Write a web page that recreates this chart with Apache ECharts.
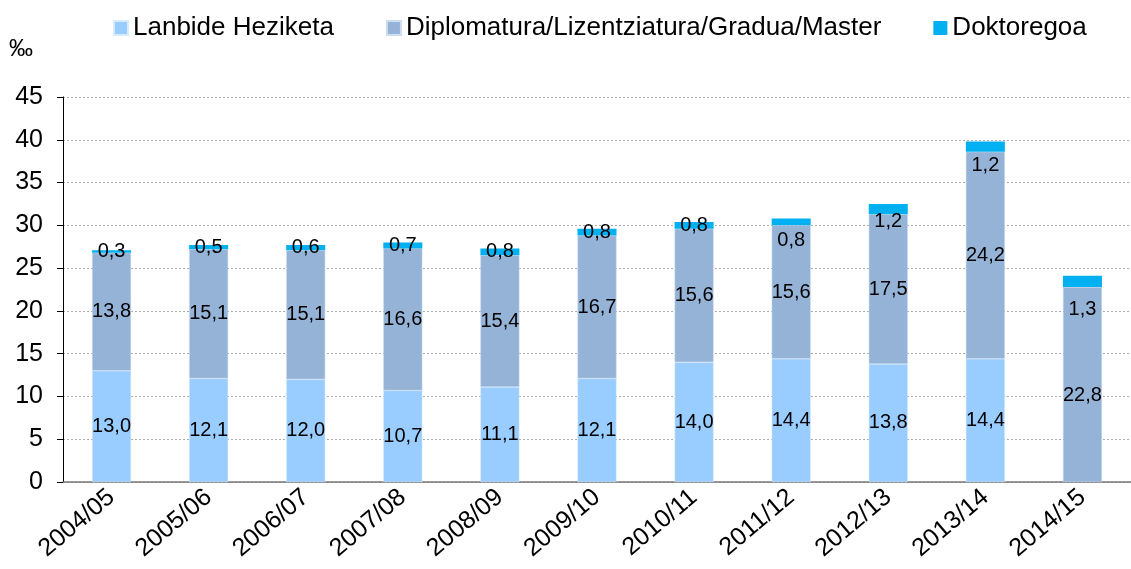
<!DOCTYPE html>
<html>
<head>
<meta charset="utf-8">
<script src="https://cdn.jsdelivr.net/npm/echarts@6/dist/echarts.min.js"></script>
<style>
  html, body { margin: 0; padding: 0; background: #fff; }
  #chart { width: 1131px; height: 569px; }
</style>
</head>
<body>
<div id="chart"></div>
<script>
// datuak
var categories = ['2004/05', '2005/06', '2006/07', '2007/08', '2008/09', '2009/10',
  '2010/11', '2011/12', '2012/13', '2013/14', '2014/15']
var lanbide = [13.0, 12.1, 12.0, 10.7, 11.1, 12.1, 14.0, 14.4, 13.8, 14.4, null]
var diplomatura = [13.8, 15.1, 15.1, 16.6, 15.4, 16.7, 15.6, 15.6, 17.5, 24.2, 22.8]
var doktoregoa = [0.3, 0.5, 0.6, 0.7, 0.8, 0.8, 0.8, 0.8, 1.2, 1.2, 1.3]

// etiketen lekualdaketa (px), jatorrizkoan bezala
var doktLabelDy = [0, 0, 0, 0, 0, 0, 0, 19, 12, 19, 28]
var diplLabelDy = [0, 0, 0, 0, 0, 0, 0, 0, 0, 0, 11]

var font = 'Liberation Sans, Arial, sans-serif'
var fmt = function (p) {
  return p.value == null ? '' : p.value.toFixed(1).replace('.', ',')
}

var chart = echarts.init(document.getElementById('chart'))

var baseLabel = {
  show: true,
  position: 'inside',
  color: '#000',
  fontFamily: font,
  fontSize: 20,
  formatter: fmt
}

var withOffsets = function (values, dy) {
  return values.map(function (v, i) {
    return { value: v, label: { offset: [0, dy[i]] } }
  })
}

chart.setOption({
  animation: false,
  textStyle: { fontFamily: font },
  legend: {
    top: 10,
    left: 108,
    itemWidth: 14,
    itemHeight: 14,
    itemGap: 52,
    icon: 'rect',
    textStyle: { fontSize: 26, color: '#000', fontFamily: font },
    data: ['Lanbide Heziketa', 'Diplomatura/Lizentziatura/Gradua/Master', 'Doktoregoa']
  },
  graphic: [{
    type: 'text',
    left: 9,
    top: 37,
    style: { text: '‰', fontSize: 24, fill: '#000', fontFamily: font }
  }],
  grid: { left: 63, right: -10, top: 97, bottom: 87 },
  xAxis: {
    type: 'category',
    data: categories,
    axisLine: { lineStyle: { color: '#777', width: 1.5 } },
    axisTick: { length: 8, lineStyle: { color: '#555' } },
    axisLabel: { rotate: 40, fontSize: 25, color: '#000', margin: 12, fontFamily: font }
  },
  yAxis: {
    type: 'value',
    min: 0,
    max: 45,
    interval: 5,
    axisLine: { show: true, lineStyle: { color: '#000' } },
    axisTick: { show: true, length: 6, lineStyle: { color: '#000' } },
    axisLabel: { fontSize: 25, color: '#000', margin: 20, fontFamily: font },
    splitLine: { lineStyle: { color: '#aaa', type: [2, 2] } }
  },
  series: [
    {
      name: 'Lanbide Heziketa',
      type: 'bar',
      stack: 'guztira',
      barWidth: 39,
      itemStyle: { color: '#99CCFF', borderColor: '#d6ebff', borderWidth: 0.5 },
      label: baseLabel,
      data: lanbide
    },
    {
      name: 'Diplomatura/Lizentziatura/Gradua/Master',
      type: 'bar',
      stack: 'guztira',
      itemStyle: { color: '#95B3D7', borderColor: '#cddcef', borderWidth: 0.5 },
      label: baseLabel,
      data: withOffsets(diplomatura, diplLabelDy)
    },
    {
      name: 'Doktoregoa',
      type: 'bar',
      stack: 'guztira',
      itemStyle: { color: '#00B0F0' },
      label: baseLabel,
      data: withOffsets(doktoregoa, doktLabelDy)
    }
  ]
})
</script>
</body>
</html>
